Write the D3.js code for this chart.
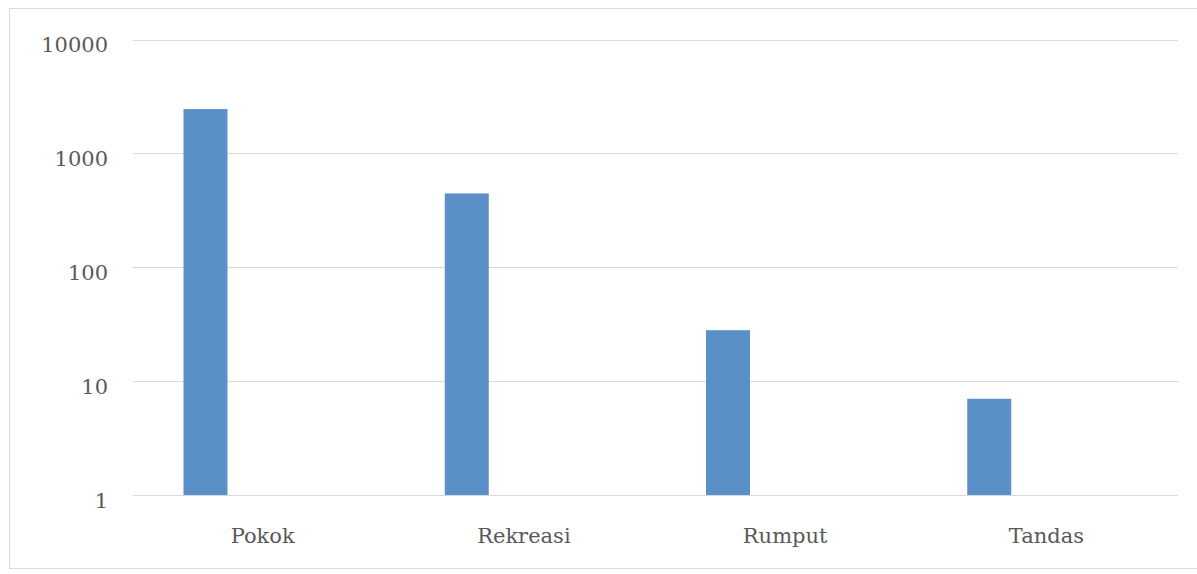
<!DOCTYPE html>
<html><head><meta charset="utf-8">
<script src="https://cdn.jsdelivr.net/npm/d3@7"></script>
<style>html,body{margin:0;padding:0;background:#fff;}svg{display:block;}</style>
</head><body>
<svg id="chart" width="1197" height="574"></svg>
<script>
const categories = ["Pokok", "Rekreasi", "Rumput", "Tandas"];
const values = [2450, 445, 28, 7];
const yTicks = [1, 10, 100, 1000, 10000];

const svg = d3.select("#chart");
const plot = {left: 133, right: 1178, top: 39.5, bottom: 495};
const font = "'DejaVu Serif', serif";
const textColor = "#595959";
const fs = 21;

// outer frame
svg.append("rect").attr("x", 9.5).attr("y", 8.5).attr("width", 1200).attr("height", 560)
  .attr("fill", "#fff").attr("stroke", "#d9d9d9").attr("stroke-width", 1);

const x = d3.scaleBand().domain(categories).range([plot.left, plot.right]).padding(0);
const y = d3.scaleLog().domain([1, 10000]).range([plot.bottom, plot.top]);

// gridlines
svg.append("g").selectAll("line").data(yTicks).join("line")
  .attr("x1", plot.left).attr("x2", plot.right)
  .attr("y1", d => Math.round(y(d)) + 0.5).attr("y2", d => Math.round(y(d)) + 0.5)
  .attr("stroke", "#d9d9d9").attr("stroke-width", 1);

// y axis labels
const yAxis = d3.axisLeft(y).tickValues(yTicks).tickFormat(d3.format("d")).tickSize(0).tickPadding(0);
const ga = svg.append("g").attr("transform", `translate(108,5.5)`).call(yAxis);
ga.select(".domain").remove();
ga.selectAll("text").attr("font-family", font).attr("font-size", fs).attr("fill", textColor);

// bars
const barOffset = 50.5, barW = 44;
svg.append("g").selectAll("rect").data(values).join("rect")
  .attr("x", (d, i) => x(categories[i]) + barOffset)
  .attr("width", barW)
  .attr("y", d => y(d))
  .attr("height", d => y(1) - y(d))
  .attr("fill", "#5b8fc8");

// x axis labels
const xAxis = d3.axisBottom(x).tickSize(0).tickPadding(0);
const gx = svg.append("g").attr("transform", `translate(-1,528)`).call(xAxis);
gx.select(".domain").remove();
gx.selectAll("text").attr("font-family", font).attr("font-size", fs).attr("fill", textColor);
</script>
</body></html>
